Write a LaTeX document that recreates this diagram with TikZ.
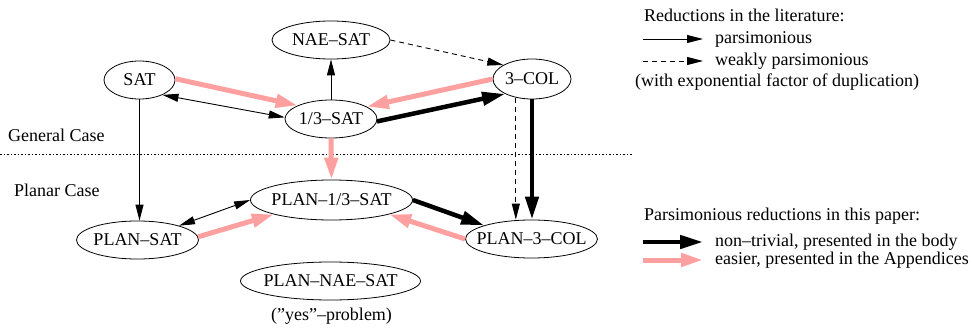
\documentclass[tikz,border=0pt]{standalone}
\usepackage{fontspec}
\setmainfont{Liberation Serif}
\usepackage{xcolor}
\usetikzlibrary{shapes, arrows.meta, positioning, calc}
\definecolor{easypink}{RGB}{255,160,160}

\begin{document}
\begin{tikzpicture}[x=1pt, y=-1pt,
  font=\fontsize{18}{21}\selectfont,
  prob/.style={draw, ellipse, inner sep=0pt, minimum height=38pt, line width=0.8pt},
  lbl/.style={inner sep=0pt, anchor=west},
  lit/.style={line width=0.9pt, -{Triangle[length=16pt,width=8pt]}},
  litboth/.style={line width=0.9pt, {Triangle[length=16pt,width=8pt]}-{Triangle[length=16pt,width=8pt]}},
  weak/.style={lit, dash pattern=on 5pt off 4pt},
  body/.style={line width=4.5pt, -{Triangle[length=23pt,width=13pt]}},
  easy/.style={easypink, line width=5pt, -{Triangle[length=22pt,width=13pt]}}]
\useasboundingbox (0,0) rectangle (972,329);

% General case
\node[prob, minimum width=71pt, label=center:SAT] (sat) at (139.5,80) {};
\node[prob, minimum width=118pt, label=center:{NAE--SAT}] (nae) at (331,40) {};
\node[prob, minimum width=92pt, label=center:{1/3--SAT}] (third) at (331,119) {};
\node[prob, minimum width=78pt, minimum height=40pt, label=center:{3--COL}] (col) at (532,79) {};

% Planar case
\node[prob, minimum width=162pt, minimum height=40pt, label=center:{PLAN--1/3--SAT}] (plan13) at (331.5,200) {};
\node[prob, minimum width=122pt, label=center:{PLAN--SAT}] (plansat) at (137.5,240) {};
\node[prob, minimum width=132pt, label=center:{PLAN--3--COL}] (plancol) at (531.5,239) {};
\node[prob, minimum width=180pt, label=center:{PLAN--NAE--SAT}] (plannae) at (330.5,281) {};
\node (yes) at (331.5,316.5) {(\symbol{34}yes\symbol{34}--problem)};

% separation of the two cases
\node[lbl] (general) at (8,135) {General Case};
\node[lbl] (planar) at (14,190) {Planar Case};
\coordinate (sepl) at (0,154);
\coordinate (sepr) at (633,154);
\draw[line width=0.8pt, dash pattern=on 1.5pt off 2pt] (sepl) -- (sepr);

% reductions, general case
\draw[easy] (sat.2) -- (third.158);
\draw[litboth] (sat.-33) -- (third.178);
\draw[lit] (third.north) -- (third.north |- nae.south);
\draw[weak] (nae.east) -- (col.154);
\draw[easy] (col.180) -- (third.19);
\draw[body] (third.-3) -- (col.-151);

% from general to planar
\draw[lit] (sat.south) -- (sat.south |- plansat.north);
\draw[easy] (third.south) -- (plan13.north);
\draw[weak] (col.-131) -- (col.-131 |- plancol.north);
\draw[body] (col.south) -- (col.south |- plancol.north);

% reductions, planar case
\draw[litboth] (plansat.19) -- (plan13.180);
\draw[easy] (plansat.3) -- (plan13.194);
\draw[body] (plan13.east) -- (plancol.164);
\draw[easy] (plancol.180) -- (plan13.-14);

% legend
\node[lbl] (litlabel) at (644,15) {Reductions in the literature:};
\coordinate (la) at (643,39);
\coordinate (lb) at (703,39);
\draw[lit] (la) -- (lb);
\node[lbl] (pars) at (715,39) {parsimonious};
\coordinate (wa) at (643,61);
\coordinate (wb) at (703,61);
\draw[weak] (wa) -- (wb);
\node[lbl] (wpars) at (715,61) {weakly parsimonious};
\node (dup) at (777,82) {(with exponential factor of duplication)};

\node[lbl] (paperlabel) at (644,216) {Parsimonious reductions in this paper:};
\coordinate (ba) at (643,242);
\coordinate (bb) at (703,242);
\draw[body] (ba) -- (bb);
\node[lbl] (nontriv) at (715,242) {non--trivial, presented in the body};
\coordinate (ea) at (643,260);
\coordinate (eb) at (703,260);
\draw[easy] (ea) -- (eb);
\node[lbl] (easier) at (715,260) {easier, presented in the Appendices};
\end{tikzpicture}
\end{document}
